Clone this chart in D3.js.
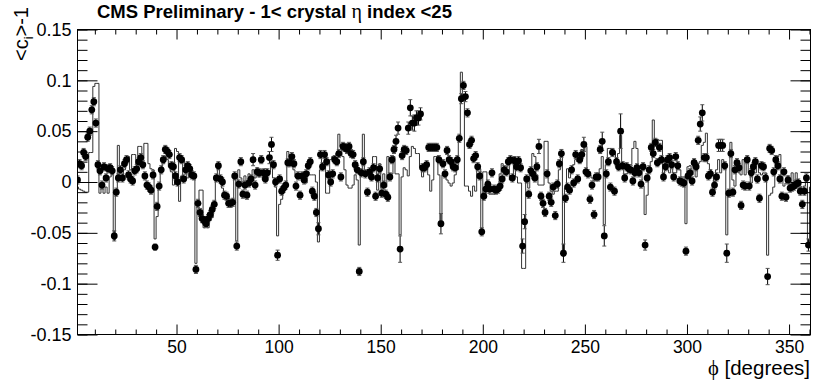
<!DOCTYPE html>
<html>
<head>
<meta charset="utf-8">
<title>crystal eta ring</title>
<script src="https://cdn.jsdelivr.net/npm/d3@7"></script>
<style>
  body { margin: 0; background: #fff; }
  text { font-family: "Liberation Sans", Arial, Helvetica, sans-serif; fill: #000; }
</style>
</head>
<body>
<svg id="chart" width="814" height="381"></svg>
<script>
// <c_i>-1 per phi index (data points, phi = 1..359)
var points = [
  0.002, 0.018, 0.016, 0.029, 0.025, 0.044, 0.050, 0.071, 0.079, 0.058,
  0.017, 0.011, -0.003, 0.015, 0.004, 0.013, 0.014, 0.011, -0.053, -0.010,
  0.004, 0.012, 0.004, 0.018, 0.022, 0.007, 0.003, 0.001, 0.011, 0.013,
  0.020, 0.024, 0.017, 0.006, -0.003, -0.005, -0.008, 0.007, -0.064, -0.024,
  -0.004, 0.012, 0.022, 0.032, 0.030, 0.027, 0.016, 0.015, 0.006, 0.000,
  0.024, 0.022, 0.003, 0.012, 0.016, 0.013, 0.007, 0.006, -0.086, -0.021,
  -0.030, -0.036, -0.038, -0.041, -0.036, -0.032, -0.027, -0.022, 0.004, 0.016,
  0.003, 0.000, -0.013, -0.014, -0.021, -0.021, -0.020, 0.006, -0.063, -0.002,
  0.020, -0.012, -0.003, -0.013, -0.001, 0.003, 0.022, -0.003, 0.010, 0.009,
  0.022, 0.009, 0.003, 0.009, 0.024, 0.037, 0.017, 0.000, -0.072, 0.003,
  -0.009, -0.006, -0.003, 0.019, 0.019, 0.025, 0.018, -0.004, 0.006, -0.013,
  0.006, 0.002, 0.008, 0.016, 0.020, -0.009, -0.014, -0.030, -0.046, 0.027,
  0.015, 0.027, 0.020, 0.007, 0.000, 0.008, 0.022, 0.020, 0.028, 0.005,
  0.035, 0.034, 0.032, 0.035, 0.028, 0.027, 0.017, 0.012, -0.088, 0.009,
  0.020, 0.008, -0.010, 0.010, 0.005, 0.014, -0.014, 0.004, 0.013, -0.011,
  -0.003, -0.012, -0.015, 0.005, 0.022, 0.032, 0.040, 0.053, -0.066, 0.026,
  0.032, 0.031, 0.053, 0.073, 0.058, 0.058, 0.063, 0.063, 0.067, 0.014,
  0.014, 0.017, 0.034, 0.034, 0.034, 0.034, 0.034, 0.022, -0.041, 0.018,
  0.008, 0.031, 0.022, 0.020, 0.015, 0.014, 0.022, 0.043, 0.082, 0.095,
  0.084, 0.068, 0.037, 0.041, 0.023, 0.026, 0.015, 0.006, -0.049, -0.014,
  -0.007, -0.002, -0.007, 0.009, -0.007, -0.008, -0.007, -0.004, 0.003, 0.012,
  0.010, 0.020, 0.022, 0.004, 0.021, 0.015, 0.021, 0.014, -0.063, -0.039,
  0.003, -0.012, 0.011, 0.008, 0.004, 0.015, 0.035, -0.014, -0.021, -0.030,
  0.008, -0.014, -0.020, -0.005, -0.033, -0.002, 0.018, 0.028, -0.070, -0.016,
  -0.005, -0.008, 0.012, -0.001, 0.027, 0.003, 0.022, 0.027, 0.037, 0.010,
  0.008, -0.017, -0.003, -0.032, 0.005, 0.005, 0.032, 0.040, -0.053, 0.008,
  0.020, -0.005, 0.029, -0.009, 0.020, 0.015, 0.050, 0.016, 0.004, 0.015,
  0.013, 0.012, 0.001, 0.009, 0.014, 0.009, -0.002, 0.015, -0.062, 0.004,
  0.012, 0.034, 0.028, 0.039, 0.019, 0.034, 0.022, 0.005, 0.015, 0.022,
  0.024, 0.017, 0.005, 0.025, 0.016, 0.001, 0.000, -0.001, -0.068, 0.006,
  0.009, 0.001, 0.019, 0.015, 0.041, 0.057, 0.068, 0.024, 0.024, 0.006,
  0.008, -0.010, -0.003, 0.005, 0.036, 0.036, 0.036, 0.016, -0.070, -0.011,
  0.028, -0.010, 0.012, 0.019, 0.014, -0.023, -0.003, -0.004, 0.022, -0.004,
  0.009, 0.015, 0.020, 0.003, -0.016, 0.016, 0.015, 0.004, -0.093, 0.033,
  0.031, 0.010, 0.022, 0.016, 0.003, -0.014, 0.010, -0.015, 0.002, -0.006,
  -0.005, -0.004, -0.002, -0.001, -0.009, -0.022, -0.009, 0.004, -0.062
];

// reference histogram, one bin per phi index (1..360)
var histo = [
  -0.005, -0.007, -0.008, -0.009, -0.010, -0.010, 0.029, 0.029, 0.094, 0.097,
  0.097, -0.011, -0.004, -0.011, -0.005, -0.011, 0.005, 0.008, -0.057, -0.010,
  0.036, 0.005, 0.005, 0.012, 0.022, 0.025, 0.012, 0.027, 0.027, 0.017,
  0.035, 0.035, 0.022, 0.038, 0.038, 0.018, 0.013, 0.012, -0.056, -0.034,
  -0.004, 0.010, 0.018, 0.025, 0.022, 0.015, 0.010, -0.003, 0.033, 0.030,
  -0.019, 0.006, 0.020, 0.015, 0.004, 0.010, 0.008, 0.003, -0.080, -0.020,
  -0.008, -0.008, -0.045, -0.040, -0.045, -0.038, -0.035, -0.024, 0.003, 0.017,
  0.000, -0.006, -0.012, -0.012, -0.016, -0.019, -0.018, 0.003, -0.058, 0.012,
  0.004, 0.000, 0.006, -0.004, 0.008, 0.002, 0.012, 0.004, 0.014, 0.005,
  0.012, 0.002, 0.013, 0.008, 0.010, 0.020, 0.004, -0.005, -0.053, -0.022,
  -0.017, -0.006, -0.004, 0.030, 0.024, 0.020, 0.012, 0.005, 0.008, 0.006,
  0.004, 0.002, -0.001, 0.010, 0.007, 0.007, 0.007, 0.000, -0.059, 0.012,
  0.025, 0.025, -0.011, -0.011, 0.022, 0.025, 0.025, 0.028, 0.047, 0.035,
  0.025, 0.012, -0.003, -0.006, -0.006, -0.003, 0.007, 0.002, -0.062, 0.010,
  0.047, 0.010, 0.008, 0.004, 0.002, 0.025, 0.025, -0.008, 0.018, -0.006,
  0.008, -0.005, 0.025, 0.008, 0.008, 0.025, 0.008, 0.008, -0.052, 0.005,
  0.014, 0.012, 0.006, 0.025, 0.035, 0.033, 0.028, 0.028, 0.014, 0.005,
  0.015, 0.013, 0.007, -0.009, 0.002, 0.025, 0.025, 0.007, -0.044, 0.007,
  0.005, 0.002, -0.001, -0.004, -0.001, 0.007, 0.012, 0.044, 0.108, 0.081,
  -0.004, -0.004, -0.009, -0.014, -0.004, -0.009, 0.013, 0.013, -0.049, 0.010,
  0.010, -0.002, -0.012, -0.012, -0.012, -0.006, -0.003, 0.008, 0.018, 0.015,
  0.015, 0.023, 0.002, 0.002, 0.025, 0.005, -0.001, -0.001, -0.085, -0.085,
  0.005, -0.006, 0.010, 0.028, 0.025, 0.007, -0.003, -0.003, -0.003, 0.040,
  0.040, -0.001, -0.009, -0.012, -0.009, -0.009, 0.012, 0.030, -0.073, -0.006,
  0.013, 0.004, 0.012, 0.017, 0.022, 0.020, 0.027, 0.032, 0.030, 0.035,
  0.009, 0.007, 0.004, 0.001, 0.007, 0.007, 0.013, 0.025, -0.042, 0.017,
  0.033, 0.033, 0.027, 0.030, 0.017, 0.028, 0.046, 0.018, 0.007, 0.008,
  0.015, 0.017, 0.033, 0.040, 0.033, 0.015, 0.013, -0.004, -0.032, -0.013,
  0.013, 0.020, 0.061, 0.036, 0.042, 0.041, 0.041, 0.005, 0.022, 0.012,
  0.009, 0.014, 0.009, 0.009, 0.014, 0.012, 0.005, 0.005, -0.041, 0.015,
  0.016, 0.007, 0.022, 0.005, 0.018, 0.020, 0.036, 0.039, 0.048, 0.018,
  0.012, 0.007, -0.003, 0.012, 0.022, 0.009, 0.022, 0.015, -0.052, -0.011,
  0.039, 0.002, -0.004, 0.013, 0.009, 0.007, 0.022, 0.007, 0.020, 0.009,
  -0.001, 0.012, 0.009, 0.018, 0.009, 0.007, 0.009, 0.009, -0.072, -0.013,
  -0.011, -0.005, 0.010, 0.025, 0.027, 0.005, -0.004, -0.001, 0.006, -0.004,
  0.009, 0.001, 0.009, 0.001, -0.004, -0.009, -0.004, 0.006, -0.063, -0.005
];

// error on the points: usual size, and the ones that are visibly larger
var errUsual = 0.004;
var errLarge = {
  8: 0.004, 9: 0.004, 19: 0.005, 39: 0.003, 59: 0.004, 79: 0.004,
  87: 0.006, 95: 0.006, 96: 0.007, 99: 0.005, 119: 0.006, 139: 0.004,
  157: 0.006, 158: 0.006, 159: 0.013, 163: 0.006, 164: 0.008, 165: 0.007,
  166: 0.008, 167: 0.007, 168: 0.007, 169: 0.006, 179: 0.010, 189: 0.005,
  191: 0.005, 219: 0.007, 220: 0.007, 227: 0.007, 239: 0.009, 249: 0.007,
  258: 0.009, 259: 0.010, 267: 0.017, 279: 0.005, 306: 0.007, 307: 0.008,
  315: 0.006, 316: 0.006, 317: 0.006, 319: 0.009, 339: 0.008, 359: 0.006
};

var xMajor = [50, 100, 150, 200, 250, 300, 350];
var xMinor = [10, 20, 30, 40, 60, 70, 80, 90, 110, 120, 130, 140, 160, 170, 180, 190,
              210, 220, 230, 240, 260, 270, 280, 290, 310, 320, 330, 340, 360];
var yMajor = [-0.15, -0.1, -0.05, 0, 0.05, 0.1, 0.15];
var yMinor = d3.range(-15, 16).map(function(k) { return k / 100; });

var L = 77.5, R = 810.5, T = 29.5, B = 334.5;

var svg = d3.select("#chart");

var x = d3.scaleLinear().domain([1.5, 360.5]).range([L, R]);
var y = d3.scaleLinear().domain([-0.15, 0.15]).range([B, T]);

svg.append("clipPath").attr("id", "plot")
  .append("rect").attr("x", L).attr("y", T).attr("width", R - L).attr("height", B - T);

var plot = svg.append("g").attr("clip-path", "url(#plot)");

// histogram as a step outline
var bins = histo.map(function(v, k) { return [k + 1, v]; });
bins.push([histo.length + 1, histo[histo.length - 1]]);
var step = d3.line()
  .x(function(d) { return x(d[0]); })
  .y(function(d) { return y(d[1]); })
  .curve(d3.curveStepAfter);
plot.append("path")
  .datum(bins)
  .attr("d", step)
  .attr("fill", "none")
  .attr("stroke", "#333")
  .attr("stroke-width", 1);

// points with error bars
var pts = points.map(function(v, k) {
  var i = k + 1;
  return { phi: i + 0.5, v: v, e: errLarge[i] || errUsual };
});

var eb = plot.selectAll(".err").data(pts).enter().append("g").attr("class", "err")
  .attr("stroke", "#000").attr("stroke-width", 1);
eb.append("line")
  .attr("x1", function(d) { return x(d.phi); })
  .attr("x2", function(d) { return x(d.phi); })
  .attr("y1", function(d) { return y(d.v - d.e); })
  .attr("y2", function(d) { return y(d.v + d.e); });
eb.append("line")
  .attr("x1", function(d) { return x(d.phi) - 2; })
  .attr("x2", function(d) { return x(d.phi) + 2; })
  .attr("y1", function(d) { return y(d.v - d.e); })
  .attr("y2", function(d) { return y(d.v - d.e); })
  .attr("stroke", "#555");
eb.append("line")
  .attr("x1", function(d) { return x(d.phi) - 2; })
  .attr("x2", function(d) { return x(d.phi) + 2; })
  .attr("y1", function(d) { return y(d.v + d.e); })
  .attr("y2", function(d) { return y(d.v + d.e); })
  .attr("stroke", "#555");

plot.selectAll(".pt").data(pts).enter().append("circle")
  .attr("class", "pt")
  .attr("cx", function(d) { return x(d.phi); })
  .attr("cy", function(d) { return y(d.v); })
  .attr("r", 3.4)
  .attr("fill", "#000");

// frame and ticks
svg.append("rect")
  .attr("x", L).attr("y", T).attr("width", R - L).attr("height", B - T)
  .attr("fill", "none").attr("stroke", "#000").attr("stroke-width", 1);

function noDomain(g) { g.select(".domain").remove(); }
function yFmt(d) { return String(+d.toFixed(2)); }

svg.append("g").attr("transform", "translate(0," + B + ")")
  .call(d3.axisBottom(x).tickValues(xMajor).tickSize(-10).tickPadding(6).tickFormat(d3.format("d")))
  .call(noDomain)
  .call(function(g) { g.selectAll("text").attr("font-size", 17.5).attr("font-family", null); });
svg.append("g").attr("transform", "translate(0," + B + ")")
  .call(d3.axisBottom(x).tickValues(xMinor).tickSize(-5).tickFormat(""))
  .call(noDomain);
svg.append("g").attr("transform", "translate(0," + T + ")")
  .call(d3.axisTop(x).tickValues(xMajor).tickSize(-10).tickFormat(""))
  .call(noDomain);
svg.append("g").attr("transform", "translate(0," + T + ")")
  .call(d3.axisTop(x).tickValues(xMinor).tickSize(-5).tickFormat(""))
  .call(noDomain);

svg.append("g").attr("transform", "translate(" + L + ",0)")
  .call(d3.axisLeft(y).tickValues(yMajor).tickSize(-20).tickPadding(6).tickFormat(yFmt))
  .call(noDomain)
  .call(function(g) { g.selectAll("text").attr("font-size", 18).attr("font-family", null); });
svg.append("g").attr("transform", "translate(" + L + ",0)")
  .call(d3.axisLeft(y).tickValues(yMinor).tickSize(-10).tickFormat(""))
  .call(noDomain);
svg.append("g").attr("transform", "translate(" + R + ",0)")
  .call(d3.axisRight(y).tickValues(yMajor).tickSize(-20).tickFormat(""))
  .call(noDomain);
svg.append("g").attr("transform", "translate(" + R + ",0)")
  .call(d3.axisRight(y).tickValues(yMinor).tickSize(-10).tickFormat(""))
  .call(noDomain);

// titles
var title = svg.append("text").attr("x", 97).attr("y", 18)
  .attr("font-size", 18.5).attr("font-weight", "bold");
title.append("tspan").text("CMS Preliminary - 1< crystal ");
title.append("tspan").attr("font-weight", "normal")
  .style("font-family", "'Liberation Serif', serif").attr("font-size", 20).text("η");
title.append("tspan").text(" index <25");

var yt = svg.append("text")
  .attr("transform", "translate(28,7) rotate(-90)")
  .attr("text-anchor", "end")
  .attr("font-size", 20);
yt.append("tspan").text("<c");
yt.append("tspan").attr("font-size", 13).attr("dy", 5).text("i");
yt.append("tspan").attr("dy", -5).text(">-1");

var xt = svg.append("text").attr("x", 810).attr("y", 375)
  .attr("text-anchor", "end").attr("font-size", 20.5);
xt.append("tspan").style("font-family", "'Liberation Serif', serif").text("ϕ");
xt.append("tspan").text(" [degrees]");
</script>
</body>
</html>
